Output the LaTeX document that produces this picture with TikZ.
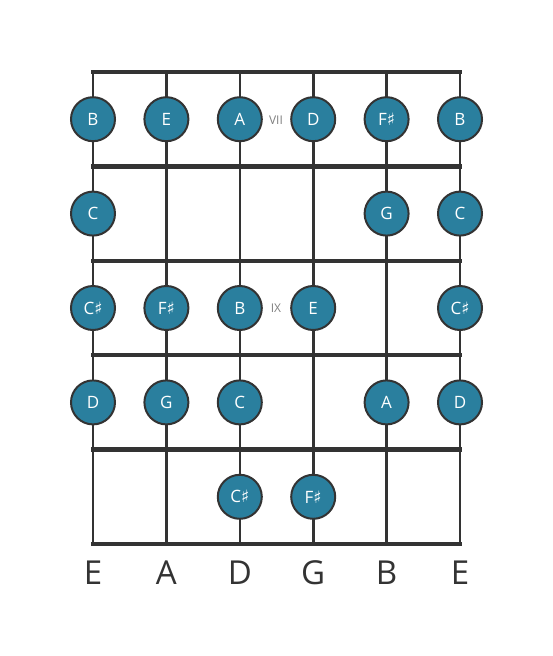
\documentclass[tikz,border=0pt]{standalone}
\usepackage{fontspec}
\setmainfont{Open Sans}
\newfontfamily\symfont{DejaVu Sans}
\definecolor{notefill}{HTML}{2A7F9E}
\definecolor{linegray}{HTML}{333333}
\newcommand{\shp}{{\symfont\char"266F}}
\tikzset{
  note/.style={circle, draw=linegray, line width=2pt, fill=notefill, minimum size=44pt, inner sep=0pt, text=white, font=\fontsize{17}{17}\selectfont},
  fretline/.style={line width=4.5pt, draw=linegray},
  stringline/.style={line width=2.6pt, draw=linegray},
  fretnum/.style={text=gray, font=\fontsize{12}{12}\selectfont},
  stringname/.style={text=linegray, font=\fontsize{33}{33}\selectfont}
}
\begin{document}
\begin{tikzpicture}[x=1pt, y=-1pt]
  \useasboundingbox (0,0) rectangle (553,656);

  % strings
  \foreach \s [count=\i] in {E,A,D,G,B,E} {
    \pgfmathsetmacro{\xs}{93+73.4*(\i-1)}
    \coordinate (top\i) at (\xs,72);
    \coordinate (bot\i) at (\xs,544);
    \draw[stringline] (top\i) -- (bot\i);
    \node[stringname] (name\i) at (\xs,573) {\s};
  }

  % frets
  \foreach \f in {0,...,5} {
    \pgfmathsetmacro{\yf}{72+94.4*\f}
    \coordinate (fl\f) at (91,\yf);
    \coordinate (fr\f) at (462,\yf);
    \draw[fretline] (fl\f) -- (fr\f);
  }

  % fret numbers
  \node[fretnum] (vii) at (276,120) {VII};
  \node[fretnum] (ix) at (276,308) {IX};

  % notes: string/fret/label
  \foreach \s/\f/\t in {1/1/B,2/1/E,3/1/A,4/1/D,5/1/F\shp,6/1/B,
                        1/2/C,5/2/G,6/2/C,
                        1/3/C\shp,2/3/F\shp,3/3/B,4/3/E,6/3/C\shp,
                        1/4/D,2/4/G,3/4/C,5/4/A,6/4/D,
                        3/5/C\shp,4/5/F\shp} {
    \node[note] (n\s-\f) at ({93+73.4*(\s-1)},{72+94.4*(\f-0.5)}) {\t};
  }
\end{tikzpicture}
\end{document}
